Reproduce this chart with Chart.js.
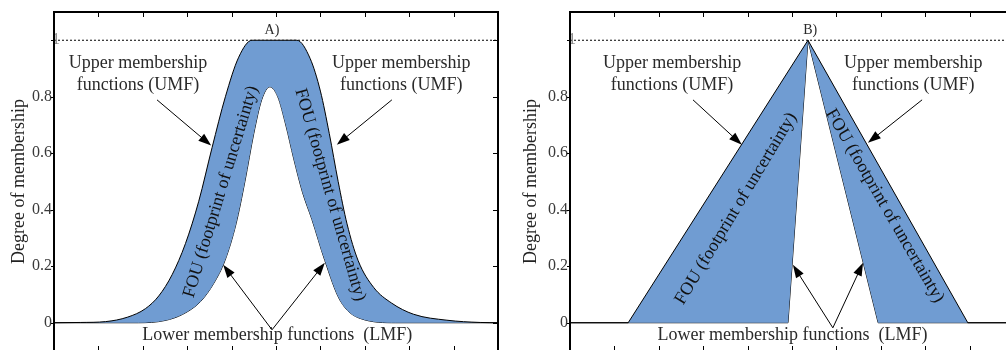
<!DOCTYPE html>
<html>
<head>
<meta charset="utf-8">
<script src="https://cdn.jsdelivr.net/npm/chart.js@4.4.0/dist/chart.umd.min.js"></script>
<style>
  html, body { margin: 0; padding: 0; background: #fff; overflow: hidden; width: 1006px; height: 350px; }
  .panel { position: absolute; top: 0; }
  #wrapA { left: 0; }
  #wrapB { left: 516px; }
</style>
</head>
<body>
<div class="panel" id="wrapA"><canvas id="chartA" width="503" height="352"></canvas></div>
<div class="panel" id="wrapB"><canvas id="chartB" width="520" height="352"></canvas></div>
<script>
// ticks
const xTicks = [0, 1, 2, 3, 4, 5, 6, 7, 8, 9, 10]
const yTicks = [0, 0.2, 0.4, 0.6, 0.8, 1]
const yTickLabels = ['0', '0.2', '0.4', '0.6', '0.8', '1']

// panel A: smooth (gaussian like) membership functions
const umfAX = [0, 0.6, 1.16, 1.66, 2.06, 2.36, 2.66, 2.96, 3.26, 3.56, 3.86, 4.16, 4.46, 5.47, 5.77, 6.0, 6.2, 6.4, 6.6, 6.85, 7.2, 7.6, 8.1, 8.85, 9.6, 10]
const umfAY = [0, 0.001, 0.004, 0.02, 0.05, 0.095, 0.17, 0.28, 0.43, 0.62, 0.8, 0.94, 1, 1, 0.935, 0.82, 0.67, 0.5, 0.35, 0.22, 0.125, 0.07, 0.03, 0.009, 0.001, 0]
const lmfAX = [0, 1.9, 2.5, 2.9, 3.3, 3.6, 3.85, 4.1, 4.3, 4.5, 4.68, 4.86, 5.04, 5.22, 5.4, 5.6, 5.81, 6.1, 6.44, 6.9, 7.7, 10]
const lmfAY = [0, 0, 0.008, 0.03, 0.075, 0.14, 0.22, 0.35, 0.5, 0.67, 0.79, 0.835, 0.8, 0.7, 0.58, 0.46, 0.365, 0.22, 0.08, 0.015, 0, 0]

// panel B: triangular membership functions
const umfBX = [0, 1.31, 5.36, 8.96, 10]
const umfBY = [0, 0, 1, 0, 0]
const lmfBX = [0, 4.91, 5.36, 6.94, 10]
const lmfBY = [0, 0, 1, 0, 0]

// dotted reference at 1
const refX = [0, 10]
const refY = [1, 1]

const axisTitle = 'Degree of membership'
const umfLabel = ['Upper membership', 'functions (UMF)']
const lmfLabel = 'Lower membership functions  (LMF)'
const fouLabel = 'FOU (footprint of uncertainty)'

const blue = 'rgb(112,156,210)'
const serif = '"Liberation Serif", "DejaVu Serif", serif'

const notesA = {
  tag: { x: 4.91, y: 1.034, text: 'A)' },
  texts: [
    { x: 1.89, y: 0.878, lines: umfLabel },
    { x: 7.82, y: 0.878, lines: umfLabel },
    { x: 5.03, y: -0.046, lines: [lmfLabel] }
  ],
  arrows: [
    [2.32, 0.789, 3.54, 0.627],
    [7.61, 0.789, 6.37, 0.630],
    [4.91, -0.025, 3.81, 0.205],
    [4.91, -0.025, 6.10, 0.212]
  ],
  rotated: [
    { x: 3.76, y: 0.464, angle: -73 },
    { x: 6.22, y: 0.453, angle: 74 }
  ]
}

const notesB = {
  tag: { x: 5.41, y: 1.034, text: 'B)' },
  texts: [
    { x: 2.30, y: 0.878, lines: umfLabel },
    { x: 7.73, y: 0.878, lines: umfLabel },
    { x: 5.01, y: -0.046, lines: [lmfLabel] }
  ],
  arrows: [
    [2.77, 0.789, 3.87, 0.630],
    [7.93, 0.789, 6.71, 0.637],
    [5.92, -0.018, 5.02, 0.205],
    [5.92, -0.018, 6.60, 0.212]
  ],
  rotated: [
    { x: 3.74, y: 0.404, angle: -59 },
    { x: 7.09, y: 0.414, angle: 60 }
  ]
}

function pts(xs, ys) {
  return xs.map((x, i) => ({ x: x, y: ys[i] }))
}

function arrow(ctx, x1, y1, x2, y2) {
  var a = Math.atan2(y2 - y1, x2 - x1)
  var L = 13, W = 4.5
  var c = Math.cos(a), s = Math.sin(a)
  ctx.beginPath()
  ctx.moveTo(x1, y1)
  ctx.lineTo(x2 - L * 0.7 * c, y2 - L * 0.7 * s)
  ctx.stroke()
  ctx.beginPath()
  ctx.moveTo(x2, y2)
  ctx.lineTo(x2 - L * c + W * s, y2 - L * s - W * c)
  ctx.lineTo(x2 - L * c - W * s, y2 - L * s + W * c)
  ctx.closePath()
  ctx.fill()
}

// box, inner ticks, the "1" label
const frame = {
  id: 'frame',
  afterDraw(chart) {
    var ctx = chart.ctx, a = chart.chartArea
    var x = chart.scales.x, y = chart.scales.y
    ctx.save()
    ctx.strokeStyle = '#000'
    ctx.lineWidth = 1
    xTicks.forEach(function (v) {
      var px = Math.round(x.getPixelForValue(v)) + 0.5
      ctx.beginPath()
      ctx.moveTo(px, a.top); ctx.lineTo(px, a.top + 5)
      ctx.moveTo(px, a.bottom); ctx.lineTo(px, a.bottom - 5)
      ctx.stroke()
    })
    yTicks.forEach(function (v) {
      var py = Math.round(y.getPixelForValue(v)) + 0.5
      ctx.beginPath()
      ctx.moveTo(a.left - 3, py); ctx.lineTo(a.left, py)
      ctx.moveTo(a.right - 5, py); ctx.lineTo(a.right, py)
      ctx.stroke()
    })
    ctx.fillStyle = '#888'
    ctx.font = '16px ' + serif
    ctx.textAlign = 'left'
    ctx.textBaseline = 'middle'
    ctx.fillText(yTickLabels[yTickLabels.length - 1], a.left - 2, y.getPixelForValue(1))
    ctx.lineWidth = 2
    ctx.strokeRect(a.left, a.top, a.right - a.left, a.bottom - a.top)
    ctx.restore()
  }
}

// texts and arrows
const notes = {
  id: 'notes',
  afterDraw(chart, args, o) {
    var ctx = chart.ctx
    var X = function (v) { return chart.scales.x.getPixelForValue(v) }
    var Y = function (v) { return chart.scales.y.getPixelForValue(v) }
    ctx.save()
    ctx.textAlign = 'center'
    ctx.textBaseline = 'middle'
    ctx.fillStyle = '#2a2a2a'
    ctx.font = '14px ' + serif
    ctx.fillText(o.tag.text, X(o.tag.x), Y(o.tag.y))
    ctx.font = '18px ' + serif
    o.texts.forEach(function (t) {
      t.lines.forEach(function (s, i) {
        ctx.fillText(s, X(t.x), Y(t.y) + (i - (t.lines.length - 1) / 2) * 22)
      })
    })
    ctx.fillStyle = '#111'
    o.rotated.forEach(function (r) {
      ctx.save()
      ctx.translate(X(r.x), Y(r.y))
      ctx.rotate(r.angle * Math.PI / 180)
      ctx.fillText(fouLabel, 0, 0)
      ctx.restore()
    })
    ctx.strokeStyle = '#000'
    ctx.fillStyle = '#000'
    ctx.lineWidth = 1
    o.arrows.forEach(function (p) {
      arrow(ctx, X(p[0]), Y(p[1]), X(p[2]), Y(p[3]))
    })
    ctx.restore()
  }
}

function makePanel(id, umf, lmf, mode, noteOpts, padRight, titlePad) {
  var ctx = document.getElementById(id).getContext('2d')
  return new Chart(ctx, {
    type: 'line',
    data: {
      datasets: [
        {
          data: umf,
          borderColor: '#000',
          borderWidth: 1,
          backgroundColor: blue,
          fill: { target: 1, above: blue, below: blue },
          cubicInterpolationMode: mode,
          order: 1
        },
        {
          data: lmf,
          borderColor: '#000',
          borderWidth: 1,
          fill: false,
          cubicInterpolationMode: mode,
          order: 1
        },
        {
          data: pts(refX, refY),
          borderColor: '#000',
          borderWidth: 1,
          borderDash: [2, 2],
          fill: false,
          order: 2
        }
      ]
    },
    options: {
      responsive: false,
      animation: false,
      devicePixelRatio: 1,
      layout: { padding: { top: 12, right: padRight, bottom: 1, left: 0 } },
      elements: { point: { radius: 0 } },
      plugins: {
        legend: { display: false },
        tooltip: { enabled: false },
        notes: noteOpts
      },
      scales: {
        x: { type: 'linear', display: false, min: 0, max: 10 },
        y: {
          min: -0.1,
          max: 1.1,
          afterBuildTicks: function (axis) {
            axis.ticks = yTicks.map(function (v) { return { value: v } })
          },
          afterFit: function (axis) {
            axis.width = 54
            axis.paddingTop = 0
            axis.paddingBottom = 0
          },
          grid: { display: false, drawTicks: false },
          border: { display: false },
          ticks: {
            padding: 2,
            color: '#3a3a3a',
            font: { family: serif, size: 16 },
            callback: function (v, i) { return v === 1 ? '' : yTickLabels[i] }
          },
          title: {
            display: true,
            text: axisTitle,
            color: '#222',
            font: { family: serif, size: 18 },
            padding: { top: titlePad, bottom: 0 }
          }
        }
      }
    },
    plugins: [frame, notes]
  })
}

makePanel('chartA', pts(umfAX, umfAY), pts(lmfAX, lmfAY), 'monotone', notesA, 5, 8)
makePanel('chartB', pts(umfBX, umfBY), pts(lmfBX, lmfBY), 'default', notesB, 22, 4)
</script>
</body>
</html>
